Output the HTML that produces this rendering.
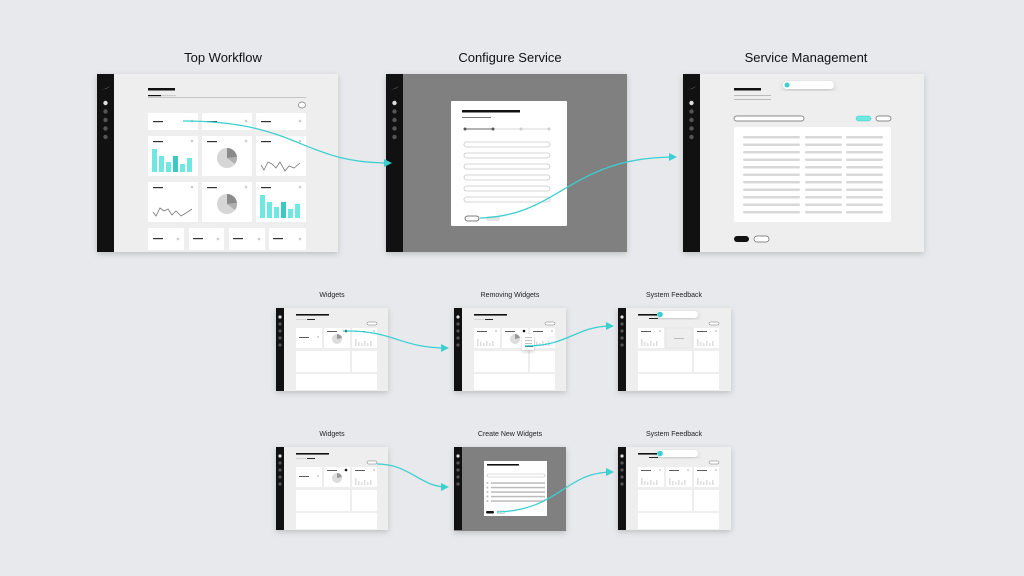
<!DOCTYPE html>
<html><head><meta charset="utf-8"><style>
html,body{margin:0;padding:0;background:#e7e9ed;}
svg{display:block;font-family:"Liberation Sans",sans-serif;}
</style></head><body>
<svg width="1024" height="576" viewBox="0 0 1024 576" xmlns="http://www.w3.org/2000/svg">
<defs>
<filter id="sh" x="-10%" y="-10%" width="120%" height="130%"><feDropShadow dx="0" dy="2" stdDeviation="3" flood-color="#000" flood-opacity="0.18"/></filter>
<marker id="ar" markerWidth="8" markerHeight="8" refX="6" refY="4" orient="auto" markerUnits="userSpaceOnUse"><path d="M0,0 L8,4 L0,8 z" fill="#3ccfcf"/></marker>
<g id="sbar">
<rect x="0" y="0" width="17" height="178" fill="#111"/>
<path d="M4,15 q4,1 9,-3 q-4,4 -9,3z" fill="#fff"/>
<circle cx="8.5" cy="29" r="2.2" fill="#ddd"/><circle cx="8.5" cy="37.5" r="2.2" fill="#555"/><circle cx="8.5" cy="46" r="2.2" fill="#555"/><circle cx="8.5" cy="54.5" r="2.2" fill="#555"/><circle cx="8.5" cy="63" r="2.2" fill="#555"/>
</g>
<g id="ssb">
<rect x="0" y="0" width="8" height="83" fill="#111"/>
<circle cx="4" cy="9" r="1.6" fill="#ddd"/><circle cx="4" cy="16" r="1.6" fill="#555"/><circle cx="4" cy="23" r="1.6" fill="#555"/><circle cx="4" cy="30" r="1.6" fill="#555"/><circle cx="4" cy="37" r="1.6" fill="#555"/>
</g>
<g id="minibars" fill="#ddd"><rect x="0" y="0" width="1.5" height="7"/><rect x="3" y="3" width="1.5" height="4"/><rect x="6" y="4" width="1.5" height="3"/><rect x="9" y="2" width="1.5" height="5"/><rect x="12" y="4" width="1.5" height="3"/><rect x="15" y="2" width="1.5" height="5"/></g>
</defs>

<!-- titles -->
<g font-size="13" fill="#111" text-anchor="middle">
<text x="223" y="62">Top Workflow</text>
<text x="510" y="62">Configure Service</text>
<text x="806" y="62">Service Management</text>
</g>
<g font-size="7" fill="#222" text-anchor="middle">
<text x="332" y="297">Widgets</text>
<text x="510" y="297">Removing Widgets</text>
<text x="674" y="297">System Feedback</text>
<text x="332" y="436">Widgets</text>
<text x="510" y="436">Create New Widgets</text>
<text x="674" y="436">System Feedback</text>
</g>

<!-- Screen 1 -->
<g filter="url(#sh)"><rect x="97" y="74" width="241" height="178" fill="#eeeeee"/></g>
<use href="#sbar" x="97" y="74"/>
<rect x="148" y="88" width="27" height="2.5" fill="#111"/>
<rect x="148" y="95" width="13" height="1.2" fill="#111"/><rect x="161" y="95" width="15" height="1.2" fill="#ccc"/>
<rect x="148" y="97" width="158" height="0.8" fill="#bbb"/>
<ellipse cx="302" cy="105" rx="3.5" ry="3" fill="#fff" stroke="#777" stroke-width="0.7"/>
<g fill="#fff">
<rect x="148" y="113" width="50" height="17" rx="1"/><rect x="202" y="113" width="50" height="17" rx="1"/><rect x="256" y="113" width="50" height="17" rx="1"/>
<rect x="148" y="136" width="50" height="40" rx="1"/><rect x="202" y="136" width="50" height="40" rx="1"/><rect x="256" y="136" width="50" height="40" rx="1"/>
<rect x="148" y="182" width="50" height="40" rx="1"/><rect x="202" y="182" width="50" height="40" rx="1"/><rect x="256" y="182" width="50" height="40" rx="1"/>
<rect x="148" y="228" width="36" height="22" rx="1"/><rect x="189" y="228" width="35" height="22" rx="1"/><rect x="229" y="228" width="36" height="22" rx="1"/><rect x="269" y="228" width="37" height="22" rx="1"/>
</g>
<g fill="#333">
<rect x="153" y="121" width="10" height="1.2"/><rect x="207" y="121" width="10" height="1.2"/><rect x="261" y="121" width="10" height="1.2"/>
<rect x="153" y="141" width="10" height="1.2"/><rect x="207" y="141" width="10" height="1.2"/><rect x="261" y="141" width="10" height="1.2"/>
<rect x="153" y="187" width="10" height="1.2"/><rect x="207" y="187" width="10" height="1.2"/><rect x="261" y="187" width="10" height="1.2"/>
<rect x="153" y="238" width="10" height="1.2"/><rect x="193" y="238" width="10" height="1.2"/><rect x="233" y="238" width="10" height="1.2"/><rect x="273" y="238" width="10" height="1.2"/>
</g>
<g fill="#ccc">
<circle cx="192" cy="121" r="1.3"/><circle cx="246" cy="121" r="1.3"/><circle cx="300" cy="121" r="1.3"/>
<circle cx="192" cy="141" r="1.3"/><circle cx="246" cy="141" r="1.3"/><circle cx="300" cy="141" r="1.3"/>
<circle cx="192" cy="187" r="1.3"/><circle cx="246" cy="187" r="1.3"/><circle cx="300" cy="187" r="1.3"/>
<circle cx="178" cy="239" r="1.3"/><circle cx="218" cy="239" r="1.3"/><circle cx="259" cy="239" r="1.3"/><circle cx="300" cy="239" r="1.3"/>
</g>
<g fill="#6ee8e0">
<rect x="152" y="149" width="5" height="23"/><rect x="159" y="156" width="5" height="16"/><rect x="166" y="162" width="5" height="10"/><rect x="173" y="156" width="5" height="16" fill="#3cc9c4"/><rect x="180" y="164" width="5" height="8"/><rect x="187" y="158" width="5" height="14"/>
<rect x="260" y="195" width="5" height="23"/><rect x="267" y="202" width="5" height="16"/><rect x="274" y="207" width="5" height="11"/><rect x="281" y="202" width="5" height="16" fill="#3cc9c4"/><rect x="288" y="209" width="5" height="9"/><rect x="295" y="204" width="5" height="14"/>
</g>
<circle cx="227" cy="158" r="10" fill="#d6d6d6"/><path d="M227,158 L227,148 A10,10 0 0 1 237,157 z" fill="#8a8a8a"/><path d="M227,158 L237,157 A10,10 0 0 1 235,164 z" fill="#b0b0b0"/>
<circle cx="227" cy="204" r="10" fill="#d6d6d6"/><path d="M227,204 L227,194 A10,10 0 0 1 237,203 z" fill="#8a8a8a"/><path d="M227,204 L237,203 A10,10 0 0 1 235,210 z" fill="#b0b0b0"/>
<polyline points="261,165 264,170 268,162 272,164 276,168 280,162 285,171 289,166 294,168 300,163" fill="none" stroke="#777" stroke-width="0.8"/>
<polyline points="153,212 156,216 160,208 164,211 168,209 172,215 176,211 181,216 186,213 192,209" fill="none" stroke="#777" stroke-width="0.8"/>

<!-- Screen 2 -->
<g filter="url(#sh)"><rect x="386" y="74" width="241" height="178" fill="#808080"/></g>
<use href="#sbar" x="386" y="74"/>
<rect x="451" y="101" width="116" height="125" fill="#fff" rx="1"/>
<rect x="462" y="110" width="58" height="2.5" fill="#111"/>
<rect x="462" y="117" width="29" height="1" fill="#777"/>
<line x1="465" y1="129" x2="493" y2="129" stroke="#333" stroke-width="0.8"/><line x1="493" y1="129" x2="549" y2="129" stroke="#ccc" stroke-width="0.8"/>
<circle cx="465" cy="129" r="1.5" fill="#555"/><circle cx="493" cy="129" r="1.5" fill="#555"/><circle cx="521" cy="129" r="1.5" fill="#ccc"/><circle cx="549" cy="129" r="1.5" fill="#ccc"/>
<g fill="#fff" stroke="#c8c8c8" stroke-width="0.8">
<rect x="464" y="142" width="86" height="5" rx="2.5"/><rect x="464" y="153" width="86" height="5" rx="2.5"/><rect x="464" y="164" width="86" height="5" rx="2.5"/><rect x="464" y="175" width="86" height="5" rx="2.5"/><rect x="464" y="186" width="86" height="5" rx="2.5"/><rect x="464" y="197" width="86" height="5" rx="2.5"/>
</g>
<rect x="465" y="216" width="14" height="5" rx="2.5" fill="#fff" stroke="#555" stroke-width="0.8"/>
<rect x="486" y="216" width="14" height="5" rx="2.5" fill="#e4e4e4"/>

<!-- Screen 3 -->
<g filter="url(#sh)"><rect x="683" y="74" width="241" height="178" fill="#eeeeee"/></g>
<use href="#sbar" x="683" y="74"/>
<rect x="734" y="88" width="27" height="2.5" fill="#111"/>
<rect x="734" y="95" width="37" height="1" fill="#bbb"/><rect x="734" y="99" width="37" height="1" fill="#bbb"/>
<g filter="url(#sh)"><rect x="783" y="81" width="51" height="8" rx="4" fill="#fff"/></g>
<circle cx="787" cy="85" r="2.5" fill="#3ccfcf"/>
<rect x="734" y="116" width="70" height="5" rx="2.5" fill="#fff" stroke="#666" stroke-width="0.7"/>
<rect x="856" y="116" width="15" height="5" rx="2.5" fill="#6ee8e0" stroke="#3cc9c4" stroke-width="0.5"/>
<rect x="876" y="116" width="15" height="5" rx="2.5" fill="#fff" stroke="#666" stroke-width="0.7"/>
<rect x="734" y="127" width="157" height="95" rx="2" fill="#fff"/>
<g fill="#d8d8d8">
<rect x="743" y="136" width="57" height="2.5" rx="1.2"/><rect x="805" y="136" width="37" height="2.5" rx="1.2"/><rect x="846" y="136" width="37" height="2.5" rx="1.2"/>
<rect x="743" y="143.5" width="57" height="2.5" rx="1.2"/><rect x="805" y="143.5" width="37" height="2.5" rx="1.2"/><rect x="846" y="143.5" width="37" height="2.5" rx="1.2"/>
<rect x="743" y="151" width="57" height="2.5" rx="1.2"/><rect x="805" y="151" width="37" height="2.5" rx="1.2"/><rect x="846" y="151" width="37" height="2.5" rx="1.2"/>
<rect x="743" y="158.5" width="57" height="2.5" rx="1.2"/><rect x="805" y="158.5" width="37" height="2.5" rx="1.2"/><rect x="846" y="158.5" width="37" height="2.5" rx="1.2"/>
<rect x="743" y="166" width="57" height="2.5" rx="1.2"/><rect x="805" y="166" width="37" height="2.5" rx="1.2"/><rect x="846" y="166" width="37" height="2.5" rx="1.2"/>
<rect x="743" y="173.5" width="57" height="2.5" rx="1.2"/><rect x="805" y="173.5" width="37" height="2.5" rx="1.2"/><rect x="846" y="173.5" width="37" height="2.5" rx="1.2"/>
<rect x="743" y="181" width="57" height="2.5" rx="1.2"/><rect x="805" y="181" width="37" height="2.5" rx="1.2"/><rect x="846" y="181" width="37" height="2.5" rx="1.2"/>
<rect x="743" y="188.5" width="57" height="2.5" rx="1.2"/><rect x="805" y="188.5" width="37" height="2.5" rx="1.2"/><rect x="846" y="188.5" width="37" height="2.5" rx="1.2"/>
<rect x="743" y="196" width="57" height="2.5" rx="1.2"/><rect x="805" y="196" width="37" height="2.5" rx="1.2"/><rect x="846" y="196" width="37" height="2.5" rx="1.2"/>
<rect x="743" y="203.5" width="57" height="2.5" rx="1.2"/><rect x="805" y="203.5" width="37" height="2.5" rx="1.2"/><rect x="846" y="203.5" width="37" height="2.5" rx="1.2"/>
<rect x="743" y="211" width="57" height="2.5" rx="1.2"/><rect x="805" y="211" width="37" height="2.5" rx="1.2"/><rect x="846" y="211" width="37" height="2.5" rx="1.2"/>
</g>
<rect x="734" y="236" width="15" height="6" rx="3" fill="#111"/>
<rect x="754" y="236" width="15" height="6" rx="3" fill="#fff" stroke="#666" stroke-width="0.7"/>

<!-- Small screen template (dashboard) as groups -->
<g id="smallA">
<g filter="url(#sh)"><rect x="276" y="308" width="112" height="83" fill="#eeeeee"/></g>
<use href="#ssb" x="276" y="308"/>
<rect x="296" y="314" width="33" height="1.6" fill="#111"/>
<rect x="296" y="319" width="10" height="0.8" fill="#ccc"/><rect x="307" y="319" width="8" height="0.9" fill="#111"/>
<rect x="367" y="322" width="10" height="3" rx="1.5" fill="#fff" stroke="#777" stroke-width="0.5"/>
<g fill="#fff"><rect x="296" y="328" width="26" height="20"/><rect x="324" y="328" width="26" height="20"/><rect x="352" y="328" width="25" height="20"/><rect x="296" y="351" width="54" height="21"/><rect x="352" y="351" width="25" height="21"/><rect x="296" y="374" width="81" height="16"/></g>
<rect x="299" y="337" width="10" height="0.8" fill="#333"/><circle cx="318" cy="337" r="1" fill="#ccc"/>
<rect x="327" y="331" width="10" height="0.8" fill="#333"/><circle cx="346" cy="331" r="1.3" fill="#111"/>
<circle cx="337" cy="339" r="5" fill="#ddd"/><path d="M337,339 L337,334 A5,5 0 0 1 342,338 z" fill="#999"/>
<rect x="355" y="331" width="10" height="0.8" fill="#333"/><circle cx="374" cy="331" r="1" fill="#ccc"/>
<use href="#minibars" x="355" y="339"/>
</g>
<use href="#smallA" x="0" y="139"/>

<!-- Removing widgets (row1 B) -->
<g filter="url(#sh)"><rect x="454" y="308" width="112" height="83" fill="#eeeeee"/></g>
<use href="#ssb" x="454" y="308"/>
<rect x="474" y="314" width="33" height="1.6" fill="#111"/>
<rect x="474" y="319" width="10" height="0.8" fill="#ccc"/><rect x="485" y="319" width="8" height="0.9" fill="#111"/>
<rect x="545" y="322" width="10" height="3" rx="1.5" fill="#fff" stroke="#777" stroke-width="0.5"/>
<g fill="#fff"><rect x="474" y="328" width="26" height="20"/><rect x="502" y="328" width="26" height="20"/><rect x="530" y="328" width="25" height="20"/><rect x="474" y="351" width="54" height="21"/><rect x="530" y="351" width="25" height="21"/><rect x="474" y="374" width="81" height="16"/></g>
<rect x="477" y="331" width="10" height="0.8" fill="#333"/><circle cx="496" cy="331" r="1" fill="#ccc"/>
<use href="#minibars" x="477" y="339"/>
<rect x="505" y="331" width="10" height="0.8" fill="#333"/><circle cx="524" cy="331" r="1.3" fill="#111"/>
<circle cx="515" cy="339" r="5" fill="#ddd"/><path d="M515,339 L515,334 A5,5 0 0 1 520,338 z" fill="#999"/>
<rect x="533" y="331" width="10" height="0.8" fill="#333"/><circle cx="552" cy="331" r="1" fill="#ccc"/>
<use href="#minibars" x="533" y="339"/>
<g filter="url(#sh)"><rect x="522" y="334" width="12" height="16" fill="#fff"/></g>
<rect x="525" y="337" width="7" height="0.6" fill="#999"/><rect x="525" y="340" width="7" height="0.6" fill="#999"/><rect x="525" y="343" width="7" height="0.6" fill="#999"/><rect x="525" y="346" width="8" height="0.9" fill="#111"/>

<!-- System feedback row1 -->
<g id="sfb">
<g filter="url(#sh)"><rect x="618" y="308" width="113" height="83" fill="#eeeeee"/></g>
<use href="#ssb" x="618" y="308"/>
<rect x="638" y="314" width="19" height="1.6" fill="#111"/>
<rect x="649" y="318" width="9" height="0.9" fill="#111"/>
<rect x="709" y="322" width="10" height="3" rx="1.5" fill="#fff" stroke="#777" stroke-width="0.5"/>
<g fill="#fff"><rect x="638" y="328" width="26" height="20"/><rect x="666" y="328" width="26" height="20"/><rect x="694" y="328" width="25" height="20"/><rect x="638" y="351" width="54" height="21"/><rect x="694" y="351" width="25" height="21"/><rect x="638" y="374" width="81" height="16"/></g>
<rect x="641" y="331" width="10" height="0.8" fill="#333"/><circle cx="660" cy="331" r="1" fill="#ccc"/>
<use href="#minibars" x="641" y="339"/>
<rect x="697" y="331" width="10" height="0.8" fill="#333"/><circle cx="716" cy="331" r="1" fill="#ccc"/>
<use href="#minibars" x="697" y="339"/>
<g filter="url(#sh)"><rect x="657" y="311" width="41" height="7" rx="3.5" fill="#fff"/></g>
<circle cx="660" cy="314.5" r="2.8" fill="#3ccfcf"/>
</g>
<rect x="666" y="328" width="26" height="20" fill="#eee" stroke="#ddd" stroke-width="0.5"/>
<rect x="674" y="338" width="10" height="0.6" fill="#999"/>
<use href="#sfb" x="0" y="139"/>
<rect x="669" y="470" width="10" height="0.8" fill="#333"/><circle cx="688" cy="470" r="1" fill="#ccc"/>
<use href="#minibars" x="669" y="478"/>

<!-- Create new widgets (row2 B) -->
<g filter="url(#sh)"><rect x="454" y="447" width="112" height="84" fill="#808080"/></g>
<use href="#ssb" x="454" y="447"/>
<rect x="484" y="461" width="63" height="55" fill="#fff"/>
<rect x="487" y="464" width="32" height="1.6" fill="#111"/>
<rect x="487" y="474" width="58" height="3" rx="1.5" fill="#fff" stroke="#bbb" stroke-width="0.6"/>
<g fill="#bbb"><circle cx="487.5" cy="483" r="1"/><circle cx="487.5" cy="487.5" r="1"/><circle cx="487.5" cy="492" r="1"/><circle cx="487.5" cy="496.5" r="1"/><circle cx="487.5" cy="501" r="1"/>
<rect x="491" y="482.3" width="54" height="1.5"/><rect x="491" y="486.8" width="54" height="1.5"/><rect x="491" y="491.3" width="54" height="1.5"/><rect x="491" y="495.8" width="54" height="1.5"/><rect x="491" y="500.3" width="54" height="1.5"/></g>
<rect x="486" y="511" width="8" height="2.5" rx="1.2" fill="#111"/>
<rect x="497" y="511" width="8" height="2.5" rx="1.2" fill="#fff" stroke="#aaa" stroke-width="0.5"/>

<!-- connectors -->
<g fill="none" stroke="#3ccfcf" stroke-width="1.3" marker-end="url(#ar)">
<path d="M183,121 C300,121 300,163 390,163"/>
<path d="M480,218 C560,216 570,157 675,157"/>
<path d="M347,331 C395,331 400,348 447,348"/>
<path d="M525,346 C570,346 575,326 612,326"/>
<path d="M377,464 C410,464 420,487 447,487"/>
<path d="M497,512 C560,510 565,472 612,472"/>
</g>
<g fill="none" stroke="#3ccfcf" stroke-width="1.3">
<path d="M343,331 h4"/>
</g>
</svg>
</body></html>
